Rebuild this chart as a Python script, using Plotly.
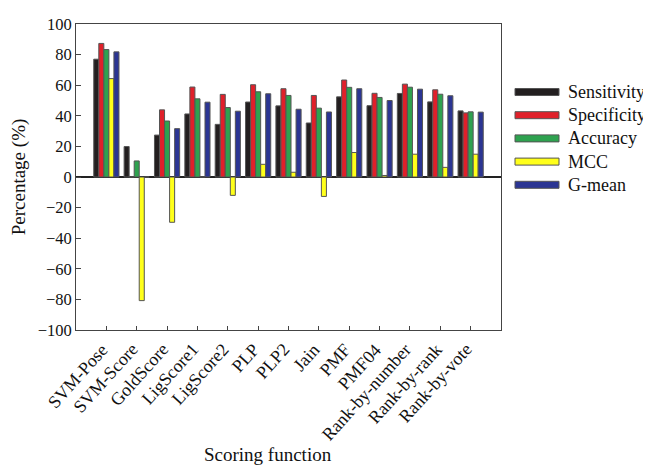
import plotly.graph_objects as go

categories = ["SVM-Pose", "SVM-Score", "GoldScore", "LigScore1", "LigScore2", "PLP", "PLP2",
              "Jain", "PMF", "PMF04", "Rank-by-number", "Rank-by-rank", "Rank-by-vote"]
sensitivity = [77.0, 19.9, 27.4, 41.2, 34.4, 49.0, 46.5, 35.3, 52.4, 46.6, 54.6, 49.1, 43.2]
specificity = [87.3, 0.0, 43.9, 58.8, 54.0, 60.3, 57.7, 53.3, 63.4, 54.7, 60.7, 57.0, 41.9]
accuracy = [83.3, 10.5, 36.6, 51.1, 45.4, 55.7, 53.3, 45.0, 58.6, 52.0, 58.7, 54.1, 42.6]
mcc = [64.3, -80.8, -29.6, 0.0, -12.0, 8.3, 3.1, -12.7, 16.0, 1.0, 14.9, 6.3, 14.9]
gmean = [81.8, 0.0, 31.6, 48.9, 43.0, 54.4, 44.3, 42.5, 57.7, 50.0, 57.4, 53.1, 42.4]

series_names = ["Sensitivity", "Specificity", "Accuracy", "MCC", "G-mean"]
series_values = [sensitivity, specificity, accuracy, mcc, gmean]
colors = ["#231f20", "#e0202a", "#2ea24f", "#ffff1a", "#2b3593"]

FONT = "Liberation Serif"
OFF = 8  # page body margin offset
W, H = 651 - OFF, 468 - OFF
ML, MT = 76 - OFF, 24 - OFF
PW, PH = 425, 306
MR = W - ML - PW
MB = H - MT - PH

# helpers: reference page pixel -> paper coordinates
def px2x(px):
    return (px - OFF - ML) / PW
def py2y(py):
    return (MT + PH - (py - OFF)) / PH

fig = go.Figure()
for name, vals, col in zip(series_names, series_values, colors):
    fig.add_trace(go.Bar(x=categories, y=vals, name=name,
                         marker=dict(color=col, line=dict(color="#555555", width=1)),
                         showlegend=False))

shapes = []
annotations = []
for i, (name, col) in enumerate(zip(series_names, colors)):
    yc = 92 + i * 23.2
    shapes.append(dict(type="rect", xref="paper", yref="paper",
                       x0=px2x(515), x1=px2x(559), y0=py2y(yc + 3.5), y1=py2y(yc - 3.5),
                       fillcolor=col, line=dict(color="#555555", width=1)))
    annotations.append(dict(xref="paper", yref="paper", x=px2x(566), y=py2y(yc),
                            text=name, showarrow=False, xanchor="left", yanchor="middle",
                            font=dict(family=FONT, size=18, color="#111111")))

# rotated category labels
for cat in categories:
    annotations.append(dict(xref="x", yref="paper", x=cat, y=py2y(337), xshift=8,
                            text=cat, showarrow=False, textangle=-48,
                            xanchor="right", yanchor="top",
                            font=dict(family=FONT, size=18, color="#111111")))

annotations.append(dict(xref="paper", yref="paper", x=px2x(268), y=py2y(455),
                        text="Scoring function", showarrow=False, xanchor="center",
                        yanchor="middle", font=dict(family=FONT, size=19, color="#111111")))

fig.update_layout(
    width=W, height=H,
    margin=dict(l=ML, r=MR, t=MT, b=MB, autoexpand=False),
    paper_bgcolor="white", plot_bgcolor="white",
    barmode="group", bargap=0.17, bargroupgap=0,
    font=dict(family=FONT, size=16, color="#111111"),
    shapes=shapes, annotations=annotations,
)
fig.update_xaxes(range=[-1, 13], showticklabels=False, ticks="inside", ticklen=4,
                 tickcolor="#444444", showline=True, linecolor="#444444", linewidth=1,
                 mirror=True, showgrid=False, automargin=False)
fig.update_yaxes(range=[-100, 100], dtick=20, ticks="inside", ticklen=5, tickcolor="#444444",
                 showline=True, linecolor="#444444", linewidth=1, mirror=True,
                 showgrid=False, zeroline=True, zerolinecolor="#222222", zerolinewidth=1.5,
                 title=dict(text="Percentage (%)", font=dict(family=FONT, size=19), standoff=9),
                 tickfont=dict(family=FONT, size=16.5), automargin=False)

fig.write_html("out.html")
